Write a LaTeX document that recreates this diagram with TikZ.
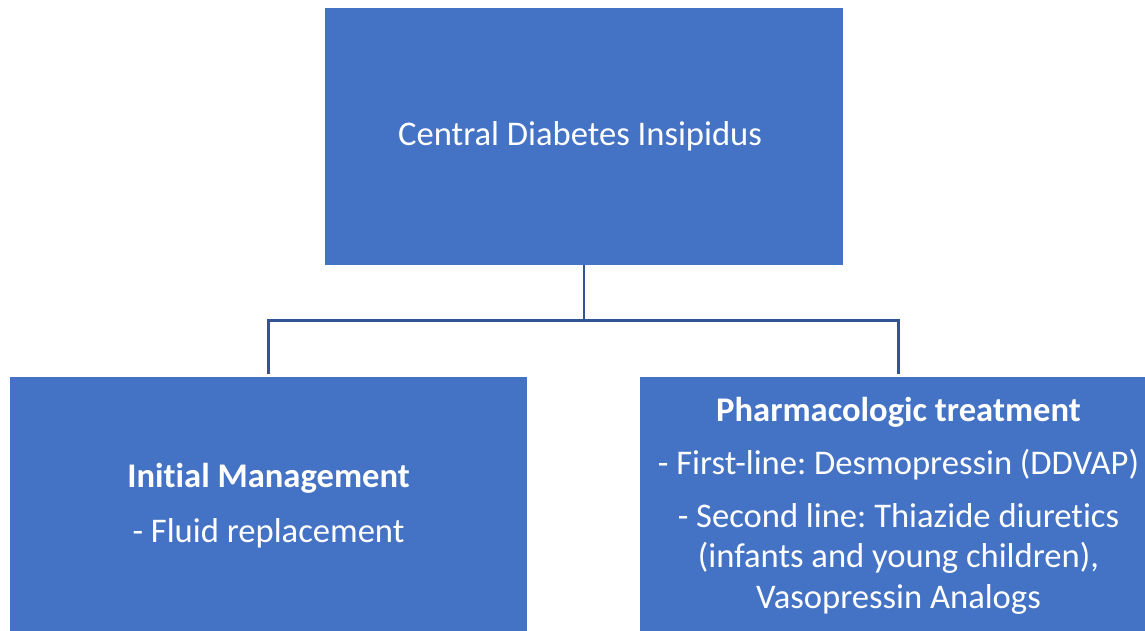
\documentclass[tikz,border=0pt]{standalone}
\usepackage{fontspec}
\setmainfont{Carlito}[Ligatures={NoCommon}]
\frenchspacing
\begin{document}
\begin{tikzpicture}[
    cdi_box/.style={shape=rectangle,fill=cdi_bgbox,text=white,align=center,inner sep=0pt,font=\fontsize{24.6}{28.8}\selectfont},
    cdi_link/.style={draw=cdi_line,line width=1.8pt}]
    \definecolor{cdi_bgbox}{RGB}{68,114,196}
    \definecolor{cdi_line}{RGB}{47,85,151}
    \useasboundingbox (0,0) rectangle (28.625,15.75);
    \node[cdi_box,minimum width=12.95cm,minimum height=6.425cm]  (cdi)     at (14.6,12.34)     { Central Diabetes Insipidus };
    \node[cdi_box,minimum width=12.925cm,minimum height=6.425cm] (initial) at (6.7125,3.1125)  { \textbf{Initial Management}\\[10pt]- Fluid replacement };
    \node[cdi_box,minimum width=12.925cm,minimum height=6.425cm] (pharma)  at (22.4625,3.1125) { \textbf{Pharmacologic treatment}\\[9pt]- First-line: Desmopressin (DDVAP)\\[9pt]- Second line: Thiazide diuretics\\(infants and young children),\\Vasopressin Analogs };
    \coordinate (split) at (14.6,7.7375);
    \draw[cdi_link] (cdi.south) -- (split);
    \draw[cdi_link] ([yshift=2pt]initial.north) |- (split) -| ([yshift=2pt]pharma.north);
\end{tikzpicture}
\end{document}
